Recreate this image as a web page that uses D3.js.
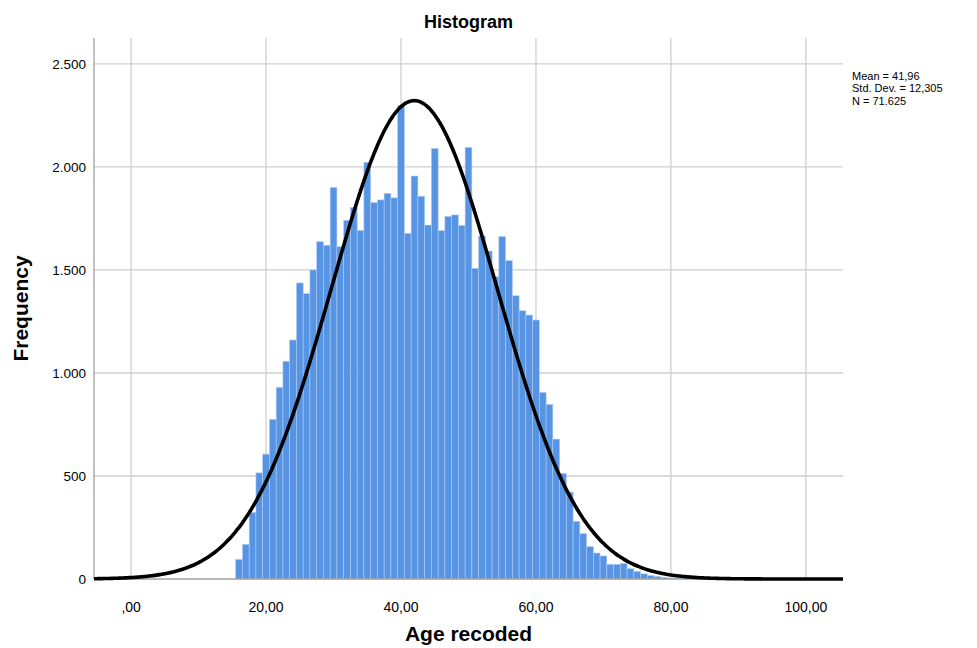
<!DOCTYPE html>
<html>
<head>
<meta charset="utf-8">
<script src="https://cdn.jsdelivr.net/npm/d3@7"></script>
<style>
  body { margin: 0; background: #fff; }
  text { font-family: "Liberation Sans", Arial, sans-serif; fill: #000; }
</style>
</head>
<body>
<svg width="977" height="648"></svg>
<script>
// bin centres (age, width 1) and counts
const ages = [16,17,18,19,20,21,22,23,24,25,26,27,28,29,30,31,32,33,34,35,36,37,38,39,40,
  41,42,43,44,45,46,47,48,49,50,51,52,53,54,55,56,57,58,59,60,61,62,63,64,65,66,67,68,69,70,
  71,72,73,74,75,76,77,78,79,80,81,82,83,84,85];
const counts = [95,168,323,515,606,775,930,1057,1160,1437,1385,1500,1637,1620,1901,1613,1741,1804,1692,2023,
  1827,1840,1872,1850,2297,1678,1956,1858,1718,2090,1691,1760,1767,1716,2095,1508,1665,1592,1467,1662,
  1545,1375,1302,1281,1257,906,847,679,513,422,280,220,157,126,112,71,71,75,50,37,25,17,12,8,5,4,3,2,1,1];

// stats shown in the legend, used for the normal curve
const mean = 41.96, sd = 12.305, n = 71625, binWidth = 1;
const statLines = ["Mean = 41,96", "Std. Dev. = 12,305", "N = 71.625"];

const xTicks = [0, 20, 40, 60, 80, 100];
const xTickLabels = [",00", "20,00", "40,00", "60,00", "80,00", "100,00"];
const yTicks = [0, 500, 1000, 1500, 2000, 2500];
const yTickLabels = ["0", "500", "1.000", "1.500", "2.000", "2.500"];

const svg = d3.select("svg");
const plotLeft = 94, plotRight = 843, plotTop = 38, plotBottom = 579;

const x = d3.scaleLinear().domain([-5.5, 105.5]).range([plotLeft, plotRight]);
const y = d3.scaleLinear().domain([0, 2626]).range([plotBottom, plotTop]);

// grid
svg.append("g")
  .selectAll("line")
  .data(xTicks)
  .join("line")
    .attr("x1", d => x(d)).attr("x2", d => x(d))
    .attr("y1", plotTop).attr("y2", plotBottom)
    .attr("stroke", "#cfcfcf").attr("stroke-width", 1.3);
svg.append("g")
  .selectAll("line")
  .data(yTicks.filter(d => d > 0))
  .join("line")
    .attr("x1", plotLeft).attr("x2", plotRight)
    .attr("y1", d => y(d)).attr("y2", d => y(d))
    .attr("stroke", "#cfcfcf").attr("stroke-width", 1.3);

// bars
svg.append("g")
  .selectAll("rect")
  .data(ages.map((a, i) => ({age: a, count: counts[i]})))
  .join("rect")
    .attr("x", d => x(d.age - binWidth / 2))
    .attr("y", d => y(d.count))
    .attr("width", d => x(d.age + binWidth / 2) - x(d.age - binWidth / 2))
    .attr("height", d => y(0) - y(d.count))
    .attr("fill", "#5794e3")
    .attr("stroke", "#aecbf2")
    .attr("stroke-width", 0.6);

// axes lines
svg.append("line")
  .attr("x1", plotLeft).attr("x2", plotLeft).attr("y1", plotTop).attr("y2", plotBottom)
  .attr("stroke", "#a0a0a0").attr("stroke-width", 1.3);
svg.append("line")
  .attr("x1", plotLeft).attr("x2", plotRight).attr("y1", plotBottom).attr("y2", plotBottom)
  .attr("stroke", "#a0a0a0").attr("stroke-width", 1.3);

// normal curve from the legend stats
const pts = d3.range(-5.5, 105.51, 0.25).map(v => {
  const z = (v - mean) / sd;
  return [v, n * binWidth * Math.exp(-0.5 * z * z) / (sd * Math.sqrt(2 * Math.PI))];
});
svg.append("path")
  .datum(pts)
  .attr("fill", "none")
  .attr("stroke", "#000")
  .attr("stroke-width", 3.6)
  .attr("d", d3.line().x(d => x(d[0])).y(d => y(d[1])).curve(d3.curveBasis));

// tick labels
svg.append("g")
  .selectAll("text")
  .data(xTicks)
  .join("text")
    .attr("x", d => x(d))
    .attr("y", 612)
    .attr("text-anchor", "middle")
    .style("font-size", "14px")
    .text((d, i) => xTickLabels[i]);
svg.append("g")
  .selectAll("text")
  .data(yTicks)
  .join("text")
    .attr("x", 86)
    .attr("y", d => y(d) + 5)
    .attr("text-anchor", "end")
    .style("font-size", "13.5px")
    .text((d, i) => yTickLabels[i]);

// titles
svg.append("text")
  .attr("x", (plotLeft + plotRight) / 2)
  .attr("y", 28)
  .attr("text-anchor", "middle")
  .style("font-size", "18px")
  .style("font-weight", "bold")
  .text("Histogram");
svg.append("text")
  .attr("x", (plotLeft + plotRight) / 2)
  .attr("y", 641)
  .attr("text-anchor", "middle")
  .style("font-size", "21px")
  .style("font-weight", "bold")
  .text("Age recoded");
svg.append("text")
  .attr("transform", `translate(28,${(plotTop + plotBottom) / 2}) rotate(-90)`)
  .attr("text-anchor", "middle")
  .style("font-size", "21px")
  .style("font-weight", "bold")
  .text("Frequency");

// stats box
svg.append("g")
  .selectAll("text")
  .data(statLines)
  .join("text")
    .attr("x", 852)
    .attr("y", (d, i) => 80 + i * 12.4)
    .style("font-size", "11px")
    .text(d => d);
</script>
</body>
</html>
